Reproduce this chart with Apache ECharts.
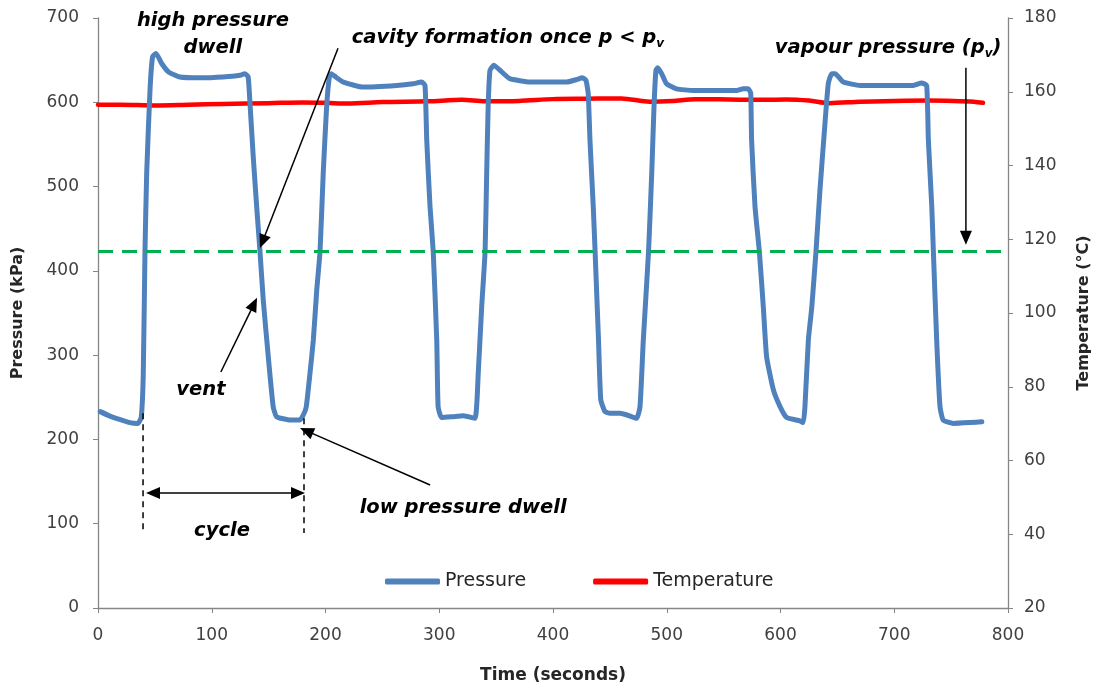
<!DOCTYPE html>
<html><head><meta charset="utf-8">
<script src="https://cdn.jsdelivr.net/npm/echarts@6/dist/echarts.min.js"></script>
<style>html,body{margin:0;padding:0;background:#fff}#c{width:1102px;height:691px}</style>
</head><body><div id="c"></div>
<script>
// ---- data (time in seconds, pressure in kPa, temperature in °C) ----
const pressure = [
 [2,233],[10,228],[16,225],[28,220],[35,219],[38,226],
 [39.8,278],[41.3,423],[42.8,516],[45.7,614],[48,654],[51,658],[56,646],[62,636],[72,630],[90,629],[110,630],[125,632],[129,634],[132,630],
 [133.6,599],[136.5,535],[139.5,476],[142.4,423],[145.3,365],[149.7,298],[154,239],[157,227],[169,223],[177.6,223],[180.5,229],
 [183,238],[186.4,279],[189.3,318],[192.3,377],[195.2,423],[198,516],[201,595],[203.4,630],[205,634],[209,630],[215.7,624],[233,618],[262.6,620],[277,622],[284.6,624],[287.5,620],
 [289,555],[291.9,476],[294.7,423],[297.8,318],[299,239],[302,226],[312,227],[321,228],[331.4,225],
 [334.3,279],[337.3,357],[340.3,423],[341.7,516],[343,595],[344.6,638],[348,644],[353.4,638],[362,628],[379.8,624],[412,624],[420.8,627],[425.9,629],[429,626],[431,610],
 [432.5,555],[435.4,476],[437,423],[440,318],[442,247],[445.7,233],[450,231],[459,231],[465,229],[473.5,225],
 [476.5,239],[479.4,318],[484,423],[486.8,516],[488.8,595],[490.5,638],[492,641],[495.5,634],[499.8,622],[508.6,616],[523.3,614],[561.4,614],[567.3,616],[571.6,616],[573.8,611],
 [574.6,555],[577.6,476],[581.4,423],[584.9,357],[587.8,298],[593.7,259],[599.6,239],[605.4,226],[617,222],[620,220],
 [621.5,239],[624.5,318],[627.5,357],[631.2,423],[634.7,496],[639.1,575],[642,622],[645,634],[648,634],[655.2,624],[670,620],[716.8,620],[724,623],[728.5,620],
 [730,555],[733,476],[734.4,423],[737.3,318],[740.2,239],[743,223],[752,219],[766.6,220],[777,221]
];
const temperature = [
 [0,156.5],[20,156.5],[50,156.3],[80,156.5],[110,156.7],[150,156.9],[180,157.1],[200,157.0],[220,156.8],[250,157.2],[290,157.4],
 [320,157.8],[340,157.4],[370,157.5],[400,158.0],[430,158.1],[460,158.2],[485,157.3],[505,157.5],[525,158.0],[555,157.9],
 [585,157.8],[605,157.9],[625,157.6],[643,156.9],[670,157.3],[700,157.5],[730,157.6],[752,157.5],[770,157.3],[778,157.0]
];
const vapourPressure = 423;
const seriesNames = ['Pressure', 'Temperature'];
const axisTitles = {x: 'Time (seconds)', left: 'Pressure (kPa)', right: 'Temperature (°C)'};

// annotations in data coordinates [time, pressure]
const annoTexts = [
 {parts: [['b','high pressure']], t: 101, p: 697, align: 'center'},
 {parts: [['b','dwell']], t: 101, p: 664, align: 'center'},
 {parts: [['b','cavity formation once p < p'], ['s','v']], t: 223, p: 676, align: 'left'},
 {parts: [['b','vapour pressure (p'], ['s','v'], ['b',')']], t: 595, p: 664, align: 'left'},
 {parts: [['b','vent']], t: 90.5, p: 259, align: 'center'},
 {parts: [['b','low pressure dwell']], t: 230, p: 119, align: 'left'},
 {parts: [['b','cycle']], t: 109, p: 91, align: 'center'}
];
const arrows = [[211,664,142.4,427],[108,280,139.8,368],[292,146,177.6,213.5],[763,641,763,431]];
const doubleArrows = [[42.2,136.4,182,136.4]];
const dashedGuides = [[39.6,231,39.6,91],[181.1,225,181.1,89]];

const FONT = 'DejaVu Sans';
const chart = echarts.init(document.getElementById('c'), null, {renderer: 'canvas'});
const axisLineStyle = {lineStyle: {color: '#868686', width: 1.3}};
chart.setOption({
  animation: false,
  backgroundColor: '#fff',
  grid: {left: 98, right: 94, top: 18, bottom: 83, containLabel: false},
  legend: {
    data: seriesNames.map(n => ({name: n, icon: 'roundRect'})),
    left: 380, top: 567, itemWidth: 55, itemHeight: 6, itemGap: 67,
    textStyle: {fontFamily: FONT, fontSize: 19, color: '#262626'}
  },
  xAxis: {
    type: 'value', min: 0, max: 800, interval: 100,
    name: axisTitles.x, nameLocation: 'middle', nameGap: 59,
    nameTextStyle: {fontFamily: FONT, fontSize: 17, fontWeight: 'bold', color: '#262626'},
    axisLine: axisLineStyle, axisTick: {show: true, length: 5, lineStyle: {color: '#868686'}},
    axisLabel: {fontFamily: FONT, fontSize: 17, color: '#404040', margin: 19},
    splitLine: {show: false}
  },
  yAxis: [{
    type: 'value', min: 0, max: 700, interval: 100, position: 'left',
    name: axisTitles.left, nameLocation: 'middle', nameGap: 72,
    nameTextStyle: {fontFamily: FONT, fontSize: 16, fontWeight: 'bold', color: '#262626'},
    axisLine: Object.assign({show: true}, axisLineStyle), axisTick: {show: true, length: 5, lineStyle: {color: '#868686'}},
    axisLabel: {fontFamily: FONT, fontSize: 17, color: '#404040', margin: 19},
    splitLine: {show: false}
  }, {
    type: 'value', min: 20, max: 180, interval: 20, position: 'right',
    name: axisTitles.right, nameLocation: 'middle', nameGap: 68,
    nameTextStyle: {fontFamily: FONT, fontSize: 16, fontWeight: 'bold', color: '#262626'},
    axisLine: Object.assign({show: true}, axisLineStyle), axisTick: {show: true, length: 5, lineStyle: {color: '#868686'}},
    axisLabel: {fontFamily: FONT, fontSize: 17, color: '#404040', margin: 16},
    splitLine: {show: false}
  }],
  series: [{
    name: seriesNames[0], type: 'line', yAxisIndex: 0, data: pressure,
    showSymbol: false, symbol: 'none', smooth: 0.15,
    lineStyle: {color: '#4f81bd', width: 5, cap: 'round', join: 'round'},
    itemStyle: {color: '#4f81bd'}, z: 3,
    markLine: {
      silent: true, symbol: ['none', 'none'], label: {show: false},
      lineStyle: {color: '#00b050', width: 3, type: [15, 9]},
      data: [{yAxis: vapourPressure}]
    }
  }, {
    name: seriesNames[1], type: 'line', yAxisIndex: 1, data: temperature,
    showSymbol: false, symbol: 'none', smooth: 0.3,
    lineStyle: {color: '#ff0000', width: 4.5, cap: 'round', join: 'round'},
    itemStyle: {color: '#ff0000'}, z: 2
  }]
});

function px(t, p) { return chart.convertToPixel({xAxisIndex: 0, yAxisIndex: 0}, [t, p]); }
function arrowHead(x1, y1, x2, y2) {
  const dx = x2 - x1, dy = y2 - y1, L = Math.hypot(dx, dy);
  const ux = dx / L, uy = dy / L, nx = -uy, ny = ux, len = 14, w = 6;
  return {type: 'polygon', shape: {points: [[x2, y2], [x2 - len*ux + w*nx, y2 - len*uy + w*ny], [x2 - len*ux - w*nx, y2 - len*uy - w*ny]]}, style: {fill: '#000'}, z: 10};
}
const g = [];
const lineStyle = {stroke: '#000', lineWidth: 1.5};
arrows.forEach(a => {
  const [x1, y1] = px(a[0], a[1]), [x2, y2] = px(a[2], a[3]);
  const L = Math.hypot(x2 - x1, y2 - y1), k = (L - 12) / L;
  g.push({type: 'line', shape: {x1, y1, x2: x1 + (x2 - x1)*k, y2: y1 + (y2 - y1)*k}, style: lineStyle, z: 10});
  g.push(arrowHead(x1, y1, x2, y2));
});
doubleArrows.forEach(a => {
  const [x1, y1] = px(a[0], a[1]), [x2, y2] = px(a[2], a[3]);
  g.push({type: 'line', shape: {x1: x1 + 12, y1, x2: x2 - 12, y2}, style: lineStyle, z: 10});
  g.push(arrowHead(x1, y1, x2, y2));
  g.push(arrowHead(x2, y2, x1, y1));
});
dashedGuides.forEach(a => {
  const [x1, y1] = px(a[0], a[1]), [x2, y2] = px(a[2], a[3]);
  g.push({type: 'line', shape: {x1, y1, x2, y2}, style: {stroke: '#000', lineWidth: 1.5, lineDash: [6, 5]}, z: 10});
});
annoTexts.forEach(a => {
  const [x, y] = px(a.t, a.p);
  g.push({
    type: 'text', x, y, z: 11,
    style: {
      text: a.parts.map(([k, s]) => '{' + k + '|' + s + '}').join(''),
      align: a.align, verticalAlign: 'middle',
      rich: {
        b: {fontFamily: FONT, fontSize: 19.5, fontWeight: 'bold', fontStyle: 'italic', fill: '#000', lineHeight: 24, verticalAlign: 'middle'},
        s: {fontFamily: FONT, fontSize: 12, fontWeight: 'bold', fontStyle: 'italic', fill: '#000', lineHeight: 24, verticalAlign: 'bottom'}
      }
    }
  });
});
chart.setOption({graphic: g});
</script>
</body></html>
